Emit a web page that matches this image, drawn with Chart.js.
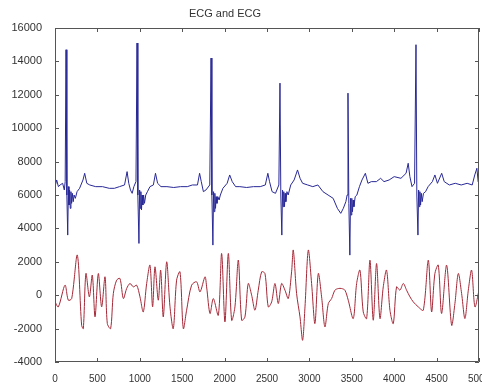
<!DOCTYPE html>
<html>
<head>
<meta charset="utf-8">
<script src="https://cdn.jsdelivr.net/npm/chart.js@4.4.1/dist/chart.umd.min.js"></script>
<style>
html,body{margin:0;padding:0;background:#fff;}
canvas{display:block;}
</style>
</head>
<body>
<canvas id="c" width="482" height="382"></canvas>
<script>
const chartTitle = "ECG and ECG";
const xTickValues = [0,500,1000,1500,2000,2500,3000,3500,4000,4500,5000];
const yTickValues = [-4000,-2000,0,2000,4000,6000,8000,10000,12000,14000,16000];

const ecgX = [0,20,40,60,90,110,
 120,130,140,150,158,165,172,180,188,196,205,215,225,240,260,290,330,350,375,410,480,560,640,700,760,820,850,870,890,910,930,955,
 967,977,990,998,1005,1013,1020,1028,1036,1045,1055,1070,1090,1120,1160,1185,1210,1250,1320,1400,1480,1560,1620,1680,1705,1725,1750,1780,1825,
 1840,1850,1862,1870,1877,1885,1893,1900,1910,1920,1935,1950,1980,2030,2060,2090,2130,2180,2260,2340,2420,2480,2510,2530,2560,2600,2640,
 2653,2663,2675,2683,2690,2698,2706,2714,2722,2735,2750,2780,2820,2860,2890,2920,2980,3040,3100,3160,3220,3280,3330,3370,3400,3430,3445,
 3455,3465,3477,3485,3492,3500,3508,3516,3525,3540,3560,3590,3620,3660,3690,3730,3790,3840,3880,3940,4000,4080,4140,4165,4185,4210,4240,
 4257,4267,4280,4288,4295,4303,4311,4320,4330,4345,4370,4400,4450,4480,4510,4560,4590,4650,4720,4790,4860,4920,4950,4975,4990,5000];
const ecgY = [6500,6900,6500,6600,6700,6300,
 6800,14700,6000,3600,6500,5400,6300,5200,6200,5500,6100,5600,6000,5800,6200,6400,6900,7300,6700,6600,6500,6500,6400,6400,6500,6600,7400,6700,6300,6100,6500,6800,
 15100,6000,3100,6300,5200,6200,5100,6000,5400,6000,5500,6000,6200,6500,6600,7300,6700,6500,6500,6450,6500,6500,6600,6600,7300,6800,6200,6300,6600,
 14200,6000,3000,6200,5000,6100,5200,5900,5500,5900,5700,6000,6400,6700,7200,6800,6500,6500,6450,6500,6500,6600,7300,6800,6200,6100,6600,
 12700,6000,3600,6300,5300,6200,5300,6100,5600,6200,6000,6600,6900,7500,7000,6700,6600,6500,6600,6200,6000,5800,5200,4900,5200,5600,6000,
 12100,5500,2400,5800,4800,5800,5000,5700,5300,5900,6000,6500,6900,7300,6700,6800,6800,7000,6800,6900,7100,7000,7300,7900,7100,6500,6700,
 15000,6000,3600,6300,5300,6200,5400,6100,5600,6100,6200,6500,6800,7200,6700,7300,6800,6600,6700,6600,6700,6600,7200,7600,6800,6700];

const emgX = [0,39,118,157,197,263,314,334,365,405,440,472,511,550,590,617,656,688,727,766,806,845,884,924,963,1002,1041,1081,1120,1151,1179,1218,1246,1277,1317,1356,1395,1434,1474,1513,1552,1611,1670,1710,1769,1788,1828,1867,1926,1965,2004,2044,2083,2122,2162,2201,2240,2279,2319,2358,2397,2437,2476,2515,2555,2594,2633,2672,2712,2751,2790,2810,2849,2889,2920,2948,2987,3026,3065,3105,3144,3183,3223,3262,3301,3341,3380,3419,3458,3517,3557,3596,3635,3675,3714,3753,3792,3832,3871,3910,3950,3989,4028,4068,4107,4146,4186,4225,4284,4343,4402,4441,4480,4520,4559,4618,4677,4716,4756,4795,4834,4874,4913,4952,5000];
const emgY = [-400,-700,600,-300,-200,2400,-1800,-2000,1300,-100,1200,-1300,1300,-700,1100,-1700,-2000,100,900,1000,-200,400,700,500,600,-100,-1000,700,1800,-700,1700,-300,1500,-1300,2000,-700,-2000,900,1400,-2000,-900,600,800,200,1100,500,-1100,-200,-1200,2500,-1600,2500,-1500,-700,2100,-1500,-1300,700,0,-900,300,1400,1300,-700,-400,700,-500,700,300,-200,1400,2700,100,-1300,-2700,-700,2700,700,-1700,1300,-100,-1900,-500,-200,300,400,400,300,-300,-1400,700,1500,-1000,-1400,2100,-1500,1900,-1400,500,1500,-900,-1700,500,300,700,300,-100,-400,-700,-900,2100,-1000,1300,1800,-1100,1800,-1800,-500,1300,100,-1400,300,1500,-700,300];

const toPts = (xs, ys) => xs.map((x, i) => ({x: x, y: ys[i]}));
const FONT = 'Liberation Sans, Arial, sans-serif';

const boxPlugin = {
  id: 'matlabBox',
  afterDraw(chart) {
    const {ctx, chartArea: a, scales} = chart;
    ctx.save();
    ctx.strokeStyle = '#555';
    ctx.lineWidth = 1;
    ctx.beginPath();
    ctx.rect(a.left + 0.5, a.top + 0.5, a.right - a.left - 1, a.bottom - a.top - 1);
    ctx.stroke();
    const L = 4;
    ctx.beginPath();
    xTickValues.forEach(v => {
      const px = Math.round(scales.x.getPixelForValue(v)) + 0.5;
      ctx.moveTo(px, a.bottom); ctx.lineTo(px, a.bottom - L);
      ctx.moveTo(px, a.top); ctx.lineTo(px, a.top + L);
    });
    yTickValues.forEach(v => {
      const py = Math.round(scales.y.getPixelForValue(v)) + 0.5;
      ctx.moveTo(a.left, py); ctx.lineTo(a.left + L, py);
      ctx.moveTo(a.right, py); ctx.lineTo(a.right - L, py);
    });
    ctx.stroke();
    // title
    ctx.fillStyle = '#333';
    ctx.font = '11px ' + FONT;
    ctx.textAlign = 'center';
    ctx.textBaseline = 'middle';
    ctx.fillText(chartTitle, 225, 14);
    ctx.restore();
  }
};

new Chart(document.getElementById('c'), {
  type: 'line',
  data: {
    datasets: [
      {label: 'ECG', data: toPts(ecgX, ecgY), borderColor: 'rgb(40,40,150)', borderWidth: 1, pointRadius: 0, tension: 0},
      {label: 'EMG', data: toPts(emgX, emgY), borderColor: 'rgb(165,40,55)', borderWidth: 1, pointRadius: 0, tension: 0.3}
    ]
  },
  options: {
    responsive: false,
    animation: false,
    layout: {padding: {left: 0, right: 3, top: 28, bottom: 0}},
    plugins: {
      legend: {display: false},
      tooltip: {enabled: false},
      title: {display: false}
    },
    scales: {
      x: {
        type: 'linear', min: 0, max: 5000,
        grid: {display: false}, border: {display: false},
        afterBuildTicks: s => { s.ticks = xTickValues.map(v => ({value: v})); },
        ticks: {color: '#333', maxRotation: 0, autoSkip: false, padding: 3,
          callback: v => String(v),
          font: {family: FONT, size: 10}},
        afterFit: s => { s.height = 20; s.paddingLeft = 0; s.paddingRight = 0; }
      },
      y: {
        type: 'linear', min: -4000, max: 16000,
        grid: {display: false}, border: {display: false},
        afterBuildTicks: s => { s.ticks = yTickValues.map(v => ({value: v})); },
        ticks: {color: '#333', padding: 5,
          callback: v => String(v),
          font: {family: FONT, size: 11}},
        afterFit: s => { s.width = 55; s.paddingTop = 0; s.paddingBottom = 0; }
      }
    }
  },
  plugins: [boxPlugin]
});
</script>
</body>
</html>
